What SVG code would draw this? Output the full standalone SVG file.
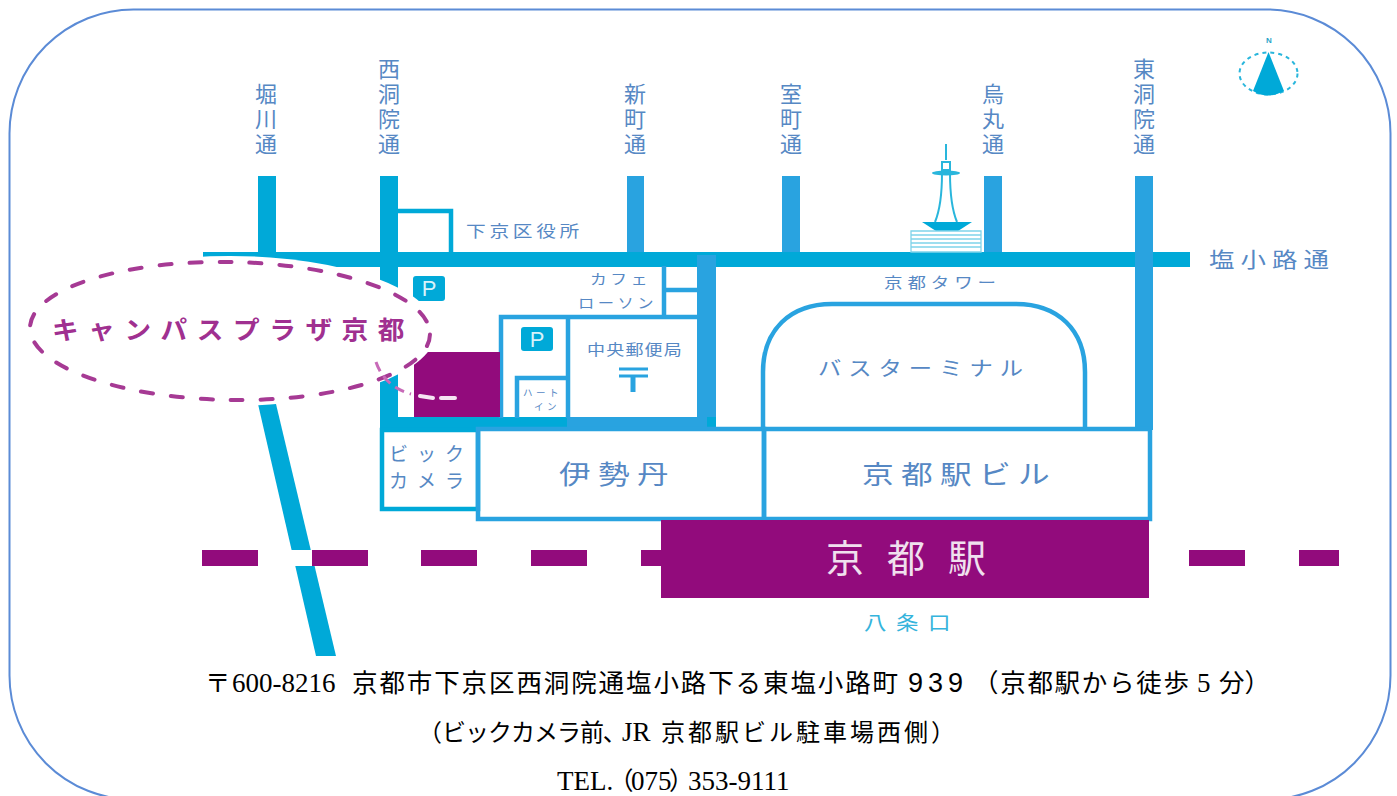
<svg xmlns="http://www.w3.org/2000/svg" width="1397" height="796" viewBox="0 0 1397 796">
<style>
.j{font-family:"Noto Sans CJK JP","Noto Sans CJK SC",sans-serif;fill:#5688c4}
.v{font-size:22px;writing-mode:vertical-rl;letter-spacing:3px;text-anchor:start}
.b{fill:#00a9d8}
.c{fill:#29a3e0}
.o{fill:none;stroke:#29a3e0;stroke-width:4.5}
.r{fill:none;stroke:#00a9d8;stroke-width:4.5}
.m{fill:#920b7c}
.t{font-family:"Noto Sans CJK JP","Noto Sans CJK SC",sans-serif;font-size:25.5px;fill:#000}
.l{font-family:"Liberation Serif",serif;font-size:27px}
.p{font-feature-settings:"palt"}
.a{font-family:"Liberation Sans",sans-serif;fill:#d8f2fa;font-size:22px;text-anchor:middle}
</style>
<rect id="frame" x="9.5" y="9.5" width="1381" height="790" rx="124" ry="124" fill="#fff" stroke="#5b8bd6" stroke-width="2"/>
<g id="roads">
<rect class="b" x="258" y="176" width="18" height="80"/>
<rect class="b" x="380" y="176" width="18" height="252"/>
<rect class="c" x="627" y="176" width="17" height="84"/>
<rect class="c" x="782" y="176" width="18" height="84"/>
<rect class="c" x="984" y="176" width="18" height="84"/>
<rect class="b" x="203" y="252" width="987" height="15"/>
<rect class="c" x="1135" y="176" width="18" height="254"/>
<rect class="c" x="697" y="255" width="19" height="175"/>
<rect class="b" x="380" y="417" width="336" height="13"/>
<rect class="c" x="567" y="417" width="140" height="10"/>
<polygon class="b" points="258,404 276,404 336,656 316,656"/>
</g>
<g id="shiyakusho">
<path class="r" d="M398 211H451V252"/>
<text class="j" x="466" y="237" font-size="16" letter-spacing="3" textLength="117" lengthAdjust="spacingAndGlyphs">下京区役所</text>
</g>
<g id="cafe">
<path class="o" d="M664 266V316M664 290H697"/>
<text class="j" x="590" y="284" font-size="14" letter-spacing="3" textLength="61" lengthAdjust="spacingAndGlyphs">カフェ</text>
<text class="j" x="578" y="308" font-size="14" letter-spacing="3" textLength="79" lengthAdjust="spacingAndGlyphs">ローソン</text>
</g>
<g id="post">
<path class="o" d="M501 418V317H697M568 317V418M517 418V378H568"/>
<rect class="b" x="521" y="327" width="32" height="24" rx="3"/>
<text class="a" x="537" y="347">P</text>
<text class="j" x="587" y="355" font-size="15" letter-spacing="1" textLength="96" lengthAdjust="spacingAndGlyphs">中央郵便局</text>
<path class="o" d="M619 369H648M619 376H648" style="stroke-width:3"/>
<path class="o" d="M633 376V392" style="stroke-width:5"/>
<text class="j" font-size="9.5" letter-spacing="3.5"><tspan x="523" y="396">ハート</tspan><tspan x="534" y="410">イン</tspan></text>
</g>
<g id="parking">
<rect class="b" x="413" y="276" width="32" height="25" rx="3"/>
<text class="a" x="429" y="296">P</text>
</g>
<rect id="plaza" class="m" x="414" y="352" width="86" height="65"/>
<g id="bus">
<path class="o" d="M763 428V372C763 330 790 304 832 304H1016C1058 304 1085 330 1085 372V428"/>
<text class="j" x="884" y="288" font-size="15" letter-spacing="4" textLength="117" lengthAdjust="spacingAndGlyphs">京都タワー</text>
<text class="j" x="818" y="376" font-size="20" letter-spacing="6" textLength="212" lengthAdjust="spacingAndGlyphs">バスターミナル</text>
</g>
<g id="bic">
<rect class="r" x="382" y="430" width="96" height="79"/>
<text class="j" font-size="19" letter-spacing="9"><tspan x="389" y="461">ビック</tspan><tspan x="389" y="488">カメラ</tspan></text>
</g>
<g id="isetan">
<rect class="o" x="478" y="429" width="286" height="90"/>
<text class="j" x="559" y="484" font-size="26" letter-spacing="6" textLength="117" lengthAdjust="spacingAndGlyphs">伊勢丹</text>
</g>
<g id="ekibiru">
<rect class="o" x="764" y="429" width="386" height="90"/>
<text class="j" x="862" y="484" font-size="26" letter-spacing="6" textLength="195" lengthAdjust="spacingAndGlyphs">京都駅ビル</text>
</g>
<g id="rail">
<rect class="m" x="202" y="550" width="56" height="16"/>
<rect class="m" x="312" y="550" width="56" height="16"/>
<rect class="m" x="421" y="550" width="56" height="16"/>
<rect class="m" x="531" y="550" width="56" height="16"/>
<rect class="m" x="641" y="550" width="30" height="16"/>
<rect class="m" x="1189" y="550" width="56" height="16"/>
<rect class="m" x="1299" y="550" width="40" height="16"/>
<rect x="258" y="550" width="54" height="16" fill="#fff"/>
</g>
<g id="station">
<rect class="m" x="661" y="520" width="488" height="78"/>
<text x="826" y="572" font-family="Noto Sans CJK JP,sans-serif" font-size="38" fill="#f0e0ee" letter-spacing="23">京都駅</text>
<text class="j" x="864" y="630" font-size="19" letter-spacing="8" textLength="96" lengthAdjust="spacingAndGlyphs" style="fill:#35b4dc">八条口</text>
</g>
<g id="tower">
<path d="M946 144V160M942 173C942 195 940 210 935 222M950 173C950 195 952 210 957 222" fill="none" stroke="#29b6dc" stroke-width="2"/>
<rect x="942" y="162" width="8" height="8" fill="none" stroke="#29b6dc" stroke-width="2"/>
<ellipse cx="946" cy="173" rx="14" ry="2.5" fill="#29b6dc"/>
<path d="M922 222H972L958 231H936Z" fill="#00a9d8"/>
<path d="M911 231H981V252H911ZM911 235H981M911 239H981M911 243H981M911 247H981" fill="#fff" stroke="#7fd3ea" stroke-width="1.3"/>
</g>
<g id="compass">
<text x="1269" y="43" font-family="Liberation Sans,sans-serif" font-size="8" font-weight="700" fill="#29a3c8" text-anchor="middle">N</text>
<ellipse cx="1268.5" cy="73.5" rx="29" ry="21" fill="none" stroke="#29b6dc" stroke-width="2" stroke-dasharray="4 4"/>
<path d="M1268.5 52L1284 91Q1268 100 1253 91Z" fill="#00a9d8"/>
</g>
<g id="labels">
<text class="j v" x="266" y="83">堀川通</text>
<text class="j v" x="389" y="58">西洞院通</text>
<text class="j v" x="635" y="83">新町通</text>
<text class="j v" x="791" y="83">室町通</text>
<text class="j v" x="993" y="83">烏丸通</text>
<text class="j v" x="1144" y="58">東洞院通</text>
<text class="j" x="1209" y="267" font-size="21" letter-spacing="5" textLength="126" lengthAdjust="spacingAndGlyphs">塩小路通</text>
</g>
<g id="campus">
<ellipse cx="230" cy="331" rx="206" ry="75" fill="#fff"/>
<ellipse cx="230" cy="331" rx="200" ry="69" transform="rotate(1 230 331)" fill="none" stroke="#a63a94" stroke-width="4" stroke-dasharray="12 18" stroke-linecap="round"/>
<path d="M376 362C382 380 396 390 411 394" fill="none" stroke="#c86ab8" stroke-width="3" stroke-dasharray="10 6"/>
<path d="M420 396L433 398M441 398H455" fill="none" stroke="#f6e6f3" stroke-width="4" stroke-linecap="round"/>
<text x="52" y="339" font-family="Noto Sans CJK JP,sans-serif" font-size="25" font-weight="700" fill="#a03090" letter-spacing="9" textLength="362" lengthAdjust="spacingAndGlyphs">キャンパスプラザ京都</text>
</g>
<g id="address">
<text class="t" y="692"><tspan x="205">〒</tspan><tspan class="l" x="232">600-8216</tspan><tspan x="352" letter-spacing="1.9">京都市下京区西洞院通塩小路下る東塩小路町</tspan><tspan x="908" letter-spacing="5" style="font-family:'Liberation Sans',sans-serif;font-size:27px">939</tspan><tspan x="973" letter-spacing="1.7">（京都駅から徒歩</tspan><tspan class="l" x="1197">5</tspan><tspan x="1219">分）</tspan></text>
<text class="t" y="741" style="font-size:24px"><tspan x="418">（</tspan><tspan x="442" letter-spacing="-1">ビックカメラ前</tspan><tspan class="p" x="603">、</tspan><tspan class="l" x="622">JR</tspan><tspan x="661" letter-spacing="3">京都駅ビル駐車場西側）</tspan></text>
<text class="t" y="790" style="font-size:25px"><tspan class="l" x="557">TEL.</tspan><tspan class="p" x="620">（</tspan><tspan class="l" x="631">075</tspan><tspan class="p" x="670">）</tspan><tspan class="l" x="688">353-9111</tspan></text>
</g>
</svg>
